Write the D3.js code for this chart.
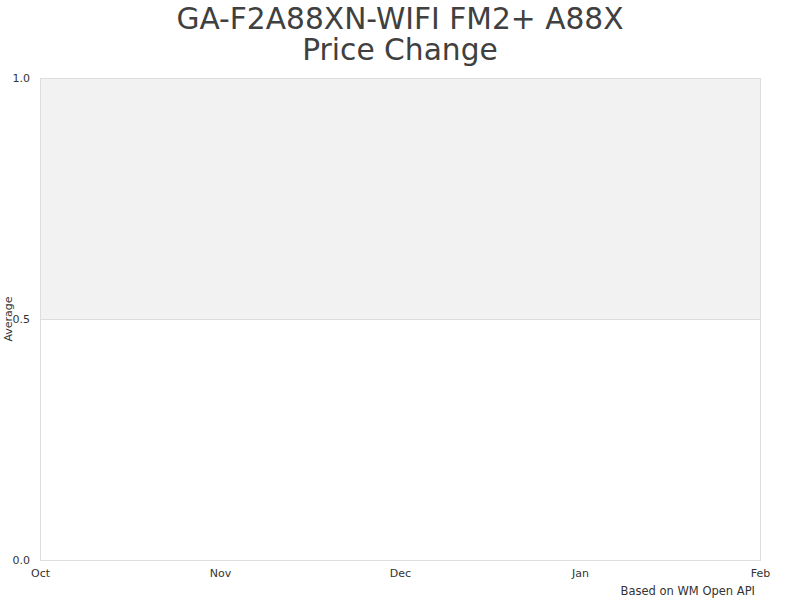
<!DOCTYPE html>
<html>
<head>
<meta charset="utf-8">
<script src="https://cdn.jsdelivr.net/npm/d3@7"></script>
<style>
  body { margin: 0; background: #fff; }
  text { font-family: "DejaVu Sans", sans-serif; }
</style>
</head>
<body>
<div id="chart"></div>
<script>
// data
const titleLines = ["GA-F2A88XN-WIFI FM2+ A88X", "Price Change"];
const months = ["Oct", "Nov", "Dec", "Jan", "Feb"];
const yTicks = [0.0, 0.5, 1.0];
const bands = [{ from: 0.5, to: 1.0 }];
const yLabel = "Average";
const credit = "Based on WM Open API";

const width = 800, height = 600;
const margin = { top: 78, right: 40, bottom: 40, left: 40 };

const svg = d3.select("#chart").append("svg")
  .attr("width", width).attr("height", height);

const x = d3.scalePoint().domain(months).range([margin.left, width - margin.right]);
const y = d3.scaleLinear().domain([0, 1]).range([height - margin.bottom, margin.top]);

// shaded band
svg.selectAll(".band").data(bands).join("rect")
  .attr("class", "band")
  .attr("x", margin.left)
  .attr("width", width - margin.left - margin.right)
  .attr("y", d => y(d.to))
  .attr("height", d => y(d.from) - y(d.to))
  .attr("fill", "#f2f2f2");

// grid lines
svg.selectAll(".grid").data(yTicks.filter(d => d > 0 && d < 1)).join("line")
  .attr("class", "grid")
  .attr("x1", margin.left).attr("x2", width - margin.right)
  .attr("y1", d => y(d) + 0.5).attr("y2", d => y(d) + 0.5)
  .attr("stroke", "#dddddd");

// plot border
svg.append("rect")
  .attr("x", margin.left + 0.5).attr("y", margin.top + 0.5)
  .attr("width", width - margin.left - margin.right)
  .attr("height", height - margin.top - margin.bottom)
  .attr("fill", "none").attr("stroke", "#dddddd");

// y axis
const yAxis = d3.axisLeft(y).tickValues(yTicks).tickFormat(d3.format(".1f")).tickSize(0).tickPadding(10);
svg.append("g")
  .attr("transform", `translate(${margin.left},0)`)
  .call(yAxis)
  .call(g => g.select(".domain").remove())
  .call(g => g.selectAll("text").attr("fill", "#333").style("font-size", "11px")
    .attr("font-family", "DejaVu Sans"));

// x axis
const xAxis = d3.axisBottom(x).tickSize(0).tickPadding(9);
svg.append("g")
  .attr("transform", `translate(0,${height - margin.bottom})`)
  .call(xAxis)
  .call(g => g.select(".domain").remove())
  .call(g => g.selectAll("text").attr("fill", "#333").style("font-size", "11px")
    .attr("font-family", "DejaVu Sans"));

// y label
svg.append("text")
  .attr("transform", `translate(12,${(y(0) + y(1)) / 2}) rotate(-90)`)
  .attr("text-anchor", "middle")
  .attr("fill", "#333")
  .style("font-size", "11px")
  .text(yLabel);

// title
svg.append("text")
  .attr("x", width / 2).attr("y", 29)
  .attr("text-anchor", "middle")
  .attr("fill", "#404040")
  .style("font-size", "29.7px")
  .selectAll("tspan").data(titleLines).join("tspan")
  .attr("x", width / 2)
  .attr("dy", (d, i) => i === 0 ? 0 : 31)
  .text(d => d);

// credit
svg.append("text")
  .attr("x", 755).attr("y", 595)
  .attr("text-anchor", "end")
  .attr("fill", "#333")
  .style("font-size", "11.5px")
  .text(credit);
</script>
</body>
</html>
